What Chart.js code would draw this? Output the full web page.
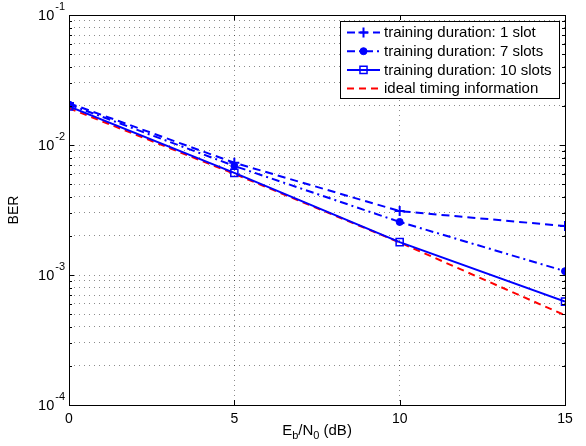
<!DOCTYPE html>
<html>
<head>
<meta charset="utf-8">
<script src="https://cdn.jsdelivr.net/npm/chart.js@4.4.1/dist/chart.umd.min.js"></script>
<style>
  html, body { margin: 0; padding: 0; background: #fff; }
  canvas { display: block; }
</style>
</head>
<body>
<canvas id="myChart" width="586" height="446"></canvas>
<script>
var ebn0 = [0, 5, 10, 15];
var ber1Slot = [0.0210, 0.0073, 0.0031, 0.00238];
var ber7Slots = [0.0205, 0.0069, 0.00256, 0.00107];
var ber10Slots = [0.0198, 0.0061, 0.00179, 0.000624];
var berIdeal = [0.0192, 0.0060, 0.00178, 0.00049];

var seriesNames = ['training duration: 1 slot', 'training duration: 7 slots',
                   'training duration: 10 slots', 'ideal timing information'];
var xTicks = [0, 5, 10, 15];
var yDecades = [-4, -3, -2, -1];

var FONT = '"Liberation Sans", Arial, Helvetica, sans-serif';

function pts(ys) {
    return ebn0.map(function (x, i) { return { x: x, y: ys[i] }; });
}

// log ticks like matlab: every m*10^k
function logTicks() {
    var t = [];
    for (var d = yDecades[0]; d < yDecades[yDecades.length - 1]; d++) {
        for (var m = 1; m < 10; m++) t.push({ value: m * Math.pow(10, d), major: m == 1 });
    }
    t.push({ value: Math.pow(10, yDecades[yDecades.length - 1]), major: true });
    return t;
}

var matlabAxes = {
    id: 'matlabAxes',
    afterDraw: function (chart) {
        var c = chart.ctx, a = chart.chartArea;
        var xs = chart.scales.x, ys = chart.scales.y;
        c.save();
        c.strokeStyle = '#000';
        c.lineWidth = 1;
        // inward ticks
        c.beginPath();
        ys.ticks.forEach(function (t) {
            var y = Math.round(ys.getPixelForValue(t.value)) + 0.5;
            var len = t.major ? 5 : 3;
            c.moveTo(a.left, y); c.lineTo(a.left + len, y);
            c.moveTo(a.right, y); c.lineTo(a.right - len, y);
        });
        xTicks.forEach(function (v) {
            var x = Math.round(xs.getPixelForValue(v)) + 0.5;
            c.moveTo(x, a.bottom); c.lineTo(x, a.bottom - 5);
            c.moveTo(x, a.top); c.lineTo(x, a.top + 5);
        });
        c.stroke();
        // box
        c.strokeRect(Math.round(a.left) + 0.5, Math.round(a.top) + 0.5,
                     Math.round(a.right - a.left), Math.round(a.bottom - a.top));

        // y tick labels 10^k
        c.fillStyle = '#000';
        c.textBaseline = 'middle';
        yDecades.forEach(function (d) {
            var y = ys.getPixelForValue(Math.pow(10, d));
            c.font = '11px ' + FONT;
            c.textAlign = 'left';
            var ex = String(d);
            var exW = c.measureText(ex).width;
            var exX = a.left - 4 - exW;
            c.fillText(ex, exX, y - 8);
            c.font = '14.5px ' + FONT;
            c.textAlign = 'right';
            c.fillText('10', exX - 1, y + 1);
        });

        // x axis title with subscripts
        var parts = [['E', 15, 0], ['b', 11, 5], ['/N', 15, 0], ['0', 11, 5], [' (dB)', 15, 0]];
        var total = 0;
        parts.forEach(function (p) { c.font = p[1] + 'px ' + FONT; total += c.measureText(p[0]).width; });
        var px = (a.left + a.right) / 2 - total / 2;
        c.textAlign = 'left';
        parts.forEach(function (p) {
            c.font = p[1] + 'px ' + FONT;
            c.fillText(p[0], px, 431 + p[2]);
            px += c.measureText(p[0]).width;
        });

        // legend box
        var lx = 340, ly = 21, lw = 219, lh = 77;
        c.fillStyle = '#fff';
        c.fillRect(lx, ly, lw, lh);
        c.strokeRect(lx + 0.5, ly + 0.5, lw, lh);
        chart.data.datasets.forEach(function (ds, i) {
            var y = 32.5 + i * 18.7;
            c.save();
            c.strokeStyle = ds.borderColor;
            c.lineWidth = ds.borderWidth;
            c.setLineDash(ds.borderDash || []);
            c.beginPath(); c.moveTo(347, y); c.lineTo(380, y); c.stroke();
            c.restore();
            if (ds.pointStyle && ds.pointRadius > 0) {
                c.save();
                c.strokeStyle = ds.pointBorderColor;
                c.fillStyle = ds.pointBackgroundColor;
                c.lineWidth = ds.pointBorderWidth;
                Chart.helpers.drawPoint(c, {
                    pointStyle: ds.pointStyle, radius: ds.pointRadius,
                    borderWidth: ds.pointBorderWidth
                }, 363.5, y);
                c.restore();
            }
            c.fillStyle = '#000';
            c.font = '15px ' + FONT;
            c.textAlign = 'left';
            c.fillText(ds.label, 384, y + 0.5);
        });
        c.restore();
    }
};

var ctx = document.getElementById('myChart').getContext('2d');

var blue = 'rgb(0,0,255)';
var red = 'rgb(255,0,0)';
var gridCol = 'rgba(0,0,0,0.45)';

var myChart = new Chart(ctx, {
    type: 'line',
    data: {
        datasets: [{
            label: seriesNames[0],
            data: pts(ber1Slot),
            borderColor: blue, backgroundColor: blue,
            borderWidth: 2, borderDash: [8, 5],
            pointStyle: 'cross', pointRadius: 5, pointBorderWidth: 2,
            pointBackgroundColor: blue, pointBorderColor: blue
        }, {
            label: seriesNames[1],
            data: pts(ber7Slots),
            borderColor: blue, backgroundColor: blue,
            borderWidth: 2, borderDash: [8, 4, 2, 4],
            pointStyle: 'circle', pointRadius: 3.5, pointBorderWidth: 1,
            pointBackgroundColor: blue, pointBorderColor: blue
        }, {
            label: seriesNames[2],
            data: pts(ber10Slots),
            borderColor: blue, backgroundColor: 'rgba(0,0,0,0)',
            borderWidth: 2,
            pointStyle: 'rect', pointRadius: 5, pointBorderWidth: 1.5,
            pointBackgroundColor: 'rgba(0,0,0,0)', pointBorderColor: blue
        }, {
            label: seriesNames[3],
            data: pts(berIdeal),
            borderColor: red, backgroundColor: red,
            borderWidth: 2, borderDash: [7, 5],
            pointRadius: 0
        }]
    },
    options: {
        responsive: false,
        animation: false,
        maintainAspectRatio: false,
        layout: { padding: { top: 15, right: 21, left: 0, bottom: 0 } },
        plugins: { legend: { display: false }, tooltip: { enabled: false } },
        elements: { line: { tension: 0 } },
        scales: {
            x: {
                type: 'linear', min: 0, max: 15,
                afterBuildTicks: function (s) { s.ticks = xTicks.map(function (v) { return { value: v }; }); },
                afterFit: function (s) { s.height = 41; },
                grid: { color: gridCol, lineWidth: 1, drawTicks: false },
                border: { display: false, dash: [1, 4] },
                ticks: { color: '#000', font: { size: 14, family: FONT }, padding: 6, maxRotation: 0 }
            },
            y: {
                type: 'logarithmic', min: 1e-4, max: 1e-1,
                afterBuildTicks: function (s) { s.ticks = logTicks(); },
                afterFit: function (s) { s.width = 69; },
                grid: { color: gridCol, lineWidth: 1, drawTicks: false },
                border: { display: false, dash: [1, 4] },
                ticks: { display: false },
                title: { display: true, text: 'BER', color: '#000',
                         font: { size: 14, family: FONT }, padding: { top: 6, bottom: 0 } }
            }
        }
    },
    plugins: [matlabAxes]
});
</script>
</body>
</html>
